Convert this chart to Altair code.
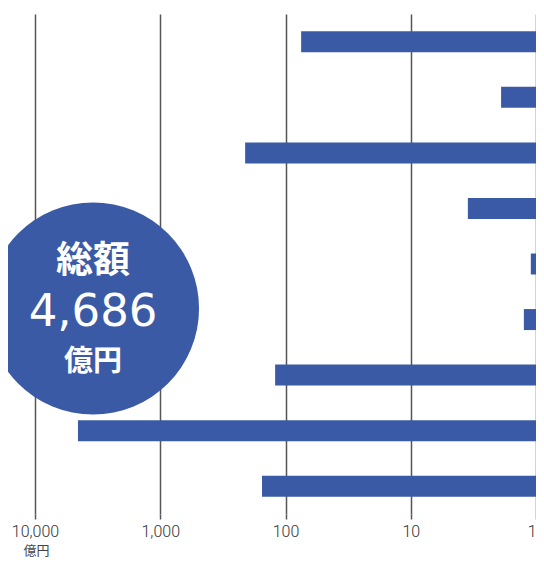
import altair as alt
import pandas as pd

# --- data ---
categories = ["項目1", "項目2", "項目3", "項目4", "項目5", "項目6", "項目7", "項目8", "項目9"]
values = [75, 1.9, 210, 3.5, 1.1, 1.25, 121, 4540, 154]
tick_values = [10000, 1000, 100, 10, 1]
total_label = "4,686"
unit_label = "億円"
total_title = "総額"
circle_x_value = [3440]

BLUE = "#3b5aa6"
GRID = "#555555"

df = pd.DataFrame({"cat": categories, "value": values, "base": [1] * len(values)})
df_c = pd.DataFrame({"x": circle_x_value})

xscale = alt.Scale(type="log", domain=[1, 10000], reverse=True, nice=False)

bars = alt.Chart(df).mark_bar(color=BLUE).encode(
    x=alt.X(
        "value:Q",
        scale=xscale,
        axis=alt.Axis(
            values=tick_values,
            format=",.0f",
            grid=True,
            gridColor=GRID,
            gridWidth=1.5,
            domain=False,
            ticks=True,
            tickColor=GRID,
            tickWidth=1.5,
            tickSize=5,
            labelFont="Roboto",
            labelFontWeight=300,
            labelFontSize=16,
            labelColor="#333333",
            labelPadding=4,
            labelFlush=False,
            labelOverlap=False,
            labelAlign={"expr": "datum.value == 1 ? 'right' : 'center'"},
            title=unit_label,
            titleFont="Noto Sans CJK JP",
            titleFontWeight="normal",
            titleFontSize=13,
            titleColor="#444444",
            titleX=1,
            titleY=36,
            titleAlign="center",
            titleBaseline="middle",
            titleAngle=0,
        ),
    ),
    x2="base:Q",
    y=alt.Y("cat:N", sort=None, axis=None,
            scale=alt.Scale(paddingInner=0.622, paddingOuter=0.311)),
)

circle = alt.Chart(df_c).mark_point(
    shape="circle", filled=True, color=BLUE, opacity=1, size=44944
).encode(x=alt.X("x:Q", scale=xscale), y=alt.value(294.5))

t1 = alt.Chart(df_c).mark_text(
    text=total_title, font="Noto Sans CJK JP", fontWeight="bold", fontSize=37,
    color="white", align="center", baseline="middle"
).encode(x=alt.X("x:Q", scale=xscale), y=alt.value(248))

t2 = alt.Chart(df_c).mark_text(
    text=total_label, font="DejaVu Sans", fontSize=45,
    color="white", align="center", baseline="middle"
).encode(x=alt.X("x:Q", scale=xscale), y=alt.value(298))

t3 = alt.Chart(df_c).mark_text(
    text=unit_label, font="Noto Sans CJK JP", fontWeight="bold", fontSize=29,
    color="white", align="center", baseline="middle"
).encode(x=alt.X("x:Q", scale=xscale), y=alt.value(348))

chart = alt.layer(bars, circle, t1, t2, t3).properties(
    width=501,
    height=500,
    autosize=alt.AutoSizeParams(type="none"),
    padding={"left": 27, "top": 6, "right": 0, "bottom": 43},
).configure_view(stroke=None)

chart.save("out.html", embed_options={"renderer": "svg", "actions": False})
